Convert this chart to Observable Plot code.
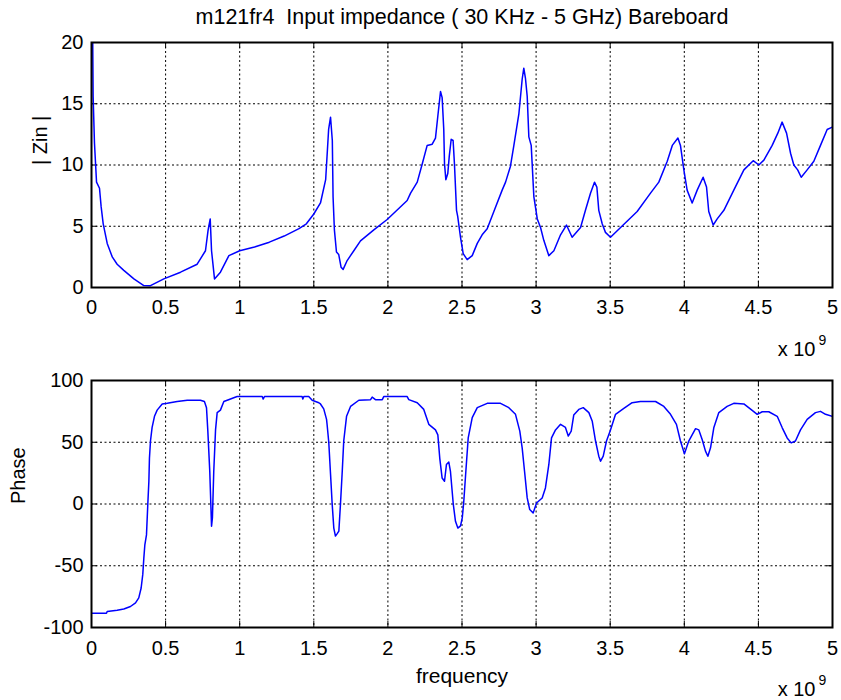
<!DOCTYPE html>
<html>
<head>
<meta charset="utf-8">
<script src="https://cdn.jsdelivr.net/npm/d3@7"></script>
<script src="https://cdn.jsdelivr.net/npm/@observablehq/plot@0.6"></script>
<style>
  body { margin: 0; background: #fff; }
  #fig { position: relative; width: 841px; height: 700px; background: #fff; }
  #fig svg { position: absolute; left: 0; }
</style>
</head>
<body>
<div id="fig"></div>
<script>
// ---- data ----
const titleText = "m121fr4\u00a0 Input impedance ( 30 KHz - 5 GHz) Bareboard";
const zinLabel = "| Zin |";
const phaseLabel = "Phase";
const xLabel = "frequency";
const xExpBase = "x 10";
const xExp = "9";

const xTicks = [0, 0.5, 1, 1.5, 2, 2.5, 3, 3.5, 4, 4.5, 5];
const xTickLabels = ["0", "0.5", "1", "1.5", "2", "2.5", "3", "3.5", "4", "4.5", "5"];
const zinTicks = [0, 5, 10, 15, 20];
const zinTickLabels = ["0", "5", "10", "15", "20"];
const phaseTicks = [-100, -50, 0, 50, 100];
const phaseTickLabels = ["-100", "-50", "0", "50", "100"];

// frequency in units of 1e9 Hz
const zinFreq = [0.003, 0.008, 0.011, 0.020, 0.034, 0.054, 0.065, 0.079, 0.106, 0.140, 0.173, 0.218, 0.286, 0.353, 0.398, 0.488, 0.601, 0.713, 0.769, 0.787, 0.801, 0.810, 0.830, 0.870, 0.927, 1.0, 1.1, 1.2, 1.3, 1.4, 1.45, 1.50, 1.545, 1.58, 1.60, 1.613, 1.625, 1.630, 1.639, 1.653, 1.668, 1.684, 1.698, 1.725, 1.77, 1.815, 1.905, 1.995, 2.13, 2.153, 2.198, 2.232, 2.265, 2.299, 2.321, 2.337, 2.355, 2.366, 2.377, 2.382, 2.391, 2.404, 2.414, 2.427, 2.44, 2.449, 2.463, 2.471, 2.490, 2.508, 2.535, 2.569, 2.603, 2.636, 2.670, 2.715, 2.771, 2.794, 2.827, 2.85, 2.884, 2.906, 2.917, 2.928, 2.940, 2.951, 2.967, 2.985, 3.008, 3.03, 3.052, 3.086, 3.12, 3.165, 3.205, 3.243, 3.30, 3.333, 3.367, 3.394, 3.41, 3.423, 3.446, 3.468, 3.502, 3.570, 3.682, 3.772, 3.828, 3.885, 3.919, 3.957, 3.974, 3.997, 4.019, 4.053, 4.087, 4.127, 4.150, 4.165, 4.195, 4.222, 4.267, 4.334, 4.402, 4.465, 4.503, 4.537, 4.593, 4.631, 4.660, 4.69, 4.717, 4.739, 4.765, 4.789, 4.829, 4.874, 4.919, 4.964, 5.0];
const zinVal = [30, 20.5, 15.6, 11.8, 8.6, 8.1, 6.6, 5.2, 3.6, 2.5, 1.9, 1.4, 0.7, 0.16, 0.15, 0.7, 1.25, 1.9, 3.0, 4.7, 5.6, 3.0, 0.7, 1.25, 2.6, 3.0, 3.3, 3.7, 4.2, 4.8, 5.2, 6.0, 6.9, 8.8, 12.9, 13.9, 12.0, 7.4, 4.7, 2.9, 2.7, 1.66, 1.48, 2.2, 3.0, 3.8, 4.7, 5.55, 7.1, 7.7, 8.6, 10.1, 11.6, 11.7, 12.2, 14.0, 16.0, 15.5, 12.9, 10.1, 8.8, 9.3, 10.7, 12.1, 12.0, 10.1, 6.3, 5.8, 4.1, 2.76, 2.27, 2.6, 3.6, 4.3, 4.8, 6.2, 7.95, 8.6, 9.9, 11.6, 14.2, 17.0, 17.9, 17.1, 15.6, 12.3, 11.6, 7.4, 5.6, 4.9, 3.85, 2.6, 3.0, 4.3, 5.1, 4.1, 4.9, 6.3, 7.7, 8.6, 8.2, 6.3, 5.2, 4.5, 4.1, 4.9, 6.2, 7.7, 8.6, 10.3, 11.6, 12.2, 11.6, 9.6, 7.95, 6.9, 7.95, 9.0, 8.2, 6.2, 5.1, 5.6, 6.3, 7.95, 9.6, 10.35, 10.0, 10.4, 11.6, 12.6, 13.5, 12.6, 10.96, 10.0, 9.6, 9.0, 9.6, 10.3, 11.6, 12.9, 13.1];

const phaseFreq = [0, 0.101, 0.106, 0.173, 0.218, 0.263, 0.297, 0.319, 0.335, 0.346, 0.353, 0.360, 0.371, 0.380, 0.387, 0.391, 0.398, 0.409, 0.425, 0.443, 0.477, 0.511, 0.578, 0.646, 0.735, 0.762, 0.776, 0.785, 0.798, 0.810, 0.816, 0.825, 0.837, 0.848, 0.870, 0.893, 0.938, 0.960, 0.983, 1.152, 1.158, 1.167, 1.421, 1.426, 1.433, 1.466, 1.489, 1.534, 1.545, 1.567, 1.586, 1.590, 1.601, 1.613, 1.624, 1.635, 1.646, 1.658, 1.669, 1.675, 1.680, 1.692, 1.702, 1.721, 1.748, 1.804, 1.883, 1.894, 1.916, 1.962, 1.972, 2.130, 2.141, 2.198, 2.242, 2.276, 2.321, 2.337, 2.350, 2.366, 2.382, 2.395, 2.411, 2.422, 2.441, 2.456, 2.472, 2.490, 2.502, 2.512, 2.526, 2.542, 2.569, 2.603, 2.670, 2.760, 2.816, 2.861, 2.890, 2.906, 2.922, 2.940, 2.957, 2.980, 3.003, 3.041, 3.063, 3.086, 3.104, 3.131, 3.165, 3.198, 3.217, 3.237, 3.254, 3.288, 3.318, 3.356, 3.379, 3.401, 3.423, 3.435, 3.453, 3.475, 3.502, 3.536, 3.592, 3.648, 3.704, 3.806, 3.862, 3.907, 3.947, 3.974, 4.001, 4.030, 4.076, 4.098, 4.121, 4.143, 4.159, 4.177, 4.199, 4.233, 4.289, 4.334, 4.402, 4.458, 4.492, 4.526, 4.570, 4.627, 4.661, 4.694, 4.721, 4.750, 4.784, 4.829, 4.885, 4.919, 4.953, 5.0];
const phaseVal = [-88.5, -88.5, -87, -86, -85, -83, -80, -76, -68, -57, -44, -33, -25, 0, 18, 37, 51, 62, 71, 76, 81, 81.5, 83, 84, 84, 83, 78, 59, 26.5, -18, -11, 26.5, 60, 74, 76, 83, 85, 86, 87, 87, 85, 87, 87, 85, 87, 87, 84, 82, 81, 77, 68.5, 64, 50, 24, 0, -19.5, -26, -24, -22, -10, 0, 26.5, 51, 71, 79, 84, 84.5, 86.6, 84.5, 84.5, 87, 87, 84.5, 82, 76.6, 64.5, 60, 56, 37, 21, 18.4, 32, 34, 26.5, 0, -14, -19.5, -17.7, -11, 2, 26.5, 53.5, 70, 78, 81.5, 81.5, 78, 72.6, 59, 45.5, 26.5, 4.9, -4.5, -7.3, 0.8, 4.9, 13, 32, 53.5, 60, 64.5, 62, 55, 59, 72, 76.6, 78, 74, 67, 51, 38.7, 34.7, 38.7, 51, 60, 72.6, 77.4, 82, 83, 83, 79, 72.6, 64.5, 51, 40.6, 51, 61, 60, 52, 42.8, 38.7, 45.5, 61.7, 74, 79, 81.5, 81, 75.8, 72.6, 74.7, 74.7, 71, 61.7, 53.5, 49.5, 51, 60, 68.5, 74, 75, 72.6, 71];

// ---- layout ----
const W = 841, H = 360;
const ML = 91, MR = 9;
const FONT = "'Liberation Sans', Arial, Helvetica, sans-serif";
const FS = 20;
const lineColor = "#0000ff";

function panel({freq, vals, yDomain, yTicks, yTickLabels, yLabel, yLabelDx, marginTop, marginBottom, xTickPad, extra}) {
  const data = freq.map((f, i) => ({f, v: vals[i]}));
  const frameH = H - marginTop - marginBottom;
  const frameW = W - ML - MR;
  const tk = 6;
  const xFmt = d => xTickLabels[xTicks.indexOf(d)];
  const yFmt = d => yTickLabels[yTicks.indexOf(d)];
  return Plot.plot({
    width: W, height: H,
    marginTop, marginBottom, marginLeft: ML, marginRight: MR,
    style: {fontFamily: FONT, fontSize: FS + "px", color: "black", background: "transparent", overflow: "visible"},
    x: {domain: [0, 5], label: null},
    y: {domain: yDomain, label: null},
    marks: [
      Plot.gridX(xTicks.slice(1, -1), {stroke: "black", strokeOpacity: 1, strokeWidth: 1, strokeDasharray: "2,2.5"}),
      Plot.gridY(yTicks.slice(1, -1), {stroke: "black", strokeOpacity: 1, strokeWidth: 1, strokeDasharray: "2,2.5"}),
      Plot.tickX(xTicks, {x: d => d, stroke: "black", insetTop: frameH - tk}),
      Plot.tickX(xTicks, {x: d => d, stroke: "black", insetBottom: frameH - tk}),
      Plot.tickY(yTicks, {y: d => d, stroke: "black", insetRight: frameW - tk}),
      Plot.tickY(yTicks, {y: d => d, stroke: "black", insetLeft: frameW - tk}),
      Plot.line(data, {x: "f", y: "v", stroke: lineColor, strokeWidth: 1.5, clip: true}),
      Plot.frame({stroke: "black", strokeWidth: 2}),
      Plot.axisX(xTicks, {tickSize: 0, tickPadding: xTickPad, tickFormat: xFmt, fontSize: FS}),
      Plot.axisY(yTicks, {tickSize: 0, tickPadding: 8, tickFormat: yFmt, fontSize: FS}),
      Plot.text([yLabel], {text: d => d, frameAnchor: "left", rotate: -90, dx: yLabelDx, fontSize: FS}),
      ...extra
    ]
  });
}

const topPanel = panel({
  freq: zinFreq, vals: zinVal, yDomain: [0, 20], yTicks: zinTicks, yTickLabels: zinTickLabels,
  yLabel: zinLabel, yLabelDx: -51, marginTop: 42, marginBottom: 73, xTickPad: 12,
  extra: [
    Plot.text([titleText], {text: d => d, frameAnchor: "top", dy: -34, fontSize: 21.5}),
    Plot.text([xExpBase], {text: d => d, frameAnchor: "bottom-right", textAnchor: "end", dx: -17, dy: 68, fontSize: FS}),
    Plot.text([xExp], {text: d => d, frameAnchor: "bottom-right", textAnchor: "start", dx: -14, dy: 57, fontSize: 14})
  ]
});
topPanel.style.top = "0px";

const bottomPanel = panel({
  freq: phaseFreq, vals: phaseVal, yDomain: [-100, 100], yTicks: phaseTicks, yTickLabels: phaseTickLabels,
  yLabel: phaseLabel, yLabelDx: -73, marginTop: 40, marginBottom: 73, xTickPad: 13,
  extra: [
    Plot.text([xLabel], {text: d => d, frameAnchor: "bottom", dy: 55, fontSize: 21}),
    Plot.text([xExpBase], {text: d => d, frameAnchor: "bottom-right", textAnchor: "end", dx: -17, dy: 68, fontSize: FS}),
    Plot.text([xExp], {text: d => d, frameAnchor: "bottom-right", textAnchor: "start", dx: -14, dy: 57, fontSize: 14})
  ]
});
bottomPanel.style.top = "340px";

const fig = document.getElementById("fig");
fig.appendChild(topPanel);
fig.appendChild(bottomPanel);
</script>
</body>
</html>
